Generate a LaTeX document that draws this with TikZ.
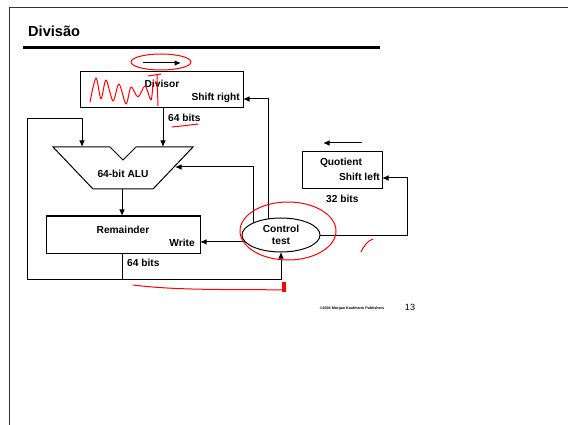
\documentclass[tikz,border=0pt]{standalone}
\usepackage{fontspec}
\setmainfont{Liberation Sans}
\usetikzlibrary{arrows.meta,shapes.geometric}
\begin{document}
\begin{tikzpicture}[x=1pt,y=-1pt,
  ln/.style={line width=1pt,draw=black},
  conn/.style={ln,-{Latex[length=6.5pt,width=5.5pt]}},
  boxx/.style={ln,rectangle,inner sep=0pt,outer sep=0pt,anchor=north west},
  lbl/.style={inner sep=0pt,font=\fontsize{10.2}{12}\selectfont\bfseries},
  note/.style={draw=red,line width=1pt,line cap=round,line join=round}]
\useasboundingbox (0,0) rectangle (568,425);
% frame and title
\draw[line width=1pt,draw=black!80] (9,425) -- (9,8) -- (568,8);
\node[inner sep=0pt,anchor=base west,font=\fontsize{14.6}{16}\selectfont\bfseries] (title) at (28,37) {Divisão};
\draw[line width=3.3pt] (23,47.5) -- (380,47.5);
% boxes
\node[boxx,minimum width=163pt,minimum height=36pt] (div) at (80,72) {};
\node[lbl] (divt) at (162,84) {Divisor};
\node[lbl,anchor=east] (divs) at (240,98) {Shift right};
\node[boxx,minimum width=154pt,minimum height=37pt] (rem) at (46,216) {};
\node[lbl] (remt) at (123,230) {Remainder};
\node[lbl,anchor=east] (remw) at (195,243) {Write};
\node[boxx,minimum width=80pt,minimum height=37pt] (quo) at (302,152) {};
\node[lbl] (quot) at (341,163) {Quotient};
\node[lbl,anchor=east] (quos) at (380,177) {Shift left};
\node[ln,ellipse,minimum width=78pt,minimum height=34pt,inner sep=0pt,outer sep=0pt] (ctl) at (281,235) {};
\node[lbl,align=center] (ctlt) at (281,235) {Control\\test};
% ALU
\coordinate (aluTL) at (53,147);
\coordinate (aluN1) at (110,147);
\coordinate (aluN) at (123,160);
\coordinate (aluN2) at (136,147);
\coordinate (aluTR) at (193,147);
\coordinate (aluBR) at (153,189);
\coordinate (aluBL) at (93,189);
\draw[ln] (aluTL) -- (aluN1) -- (aluN) -- (aluN2) -- (aluTR) -- (aluBR) -- (aluBL) -- cycle;
\node[lbl] (alut) at (123,174) {64-bit ALU};
% coordinates for connectors
\coordinate (aluIn) at (163,147);
\coordinate (aluR) at (175,167);
\coordinate (aluB) at (122,189);
\coordinate (aluL) at (82,147);
\coordinate (divR) at (243,99);
\coordinate (loopBL) at (27,279);
\coordinate (loopBR) at (281,279);
\coordinate (loopTL) at (27,119);
\coordinate (qR) at (407,178);
\coordinate (ar1) at (143,63);
\coordinate (ar2) at (181,63);
\coordinate (aq1) at (362,143);
\coordinate (aq2) at (323,143);
% connectors
\draw[conn] (aluIn |- div.south) -- (aluIn);
\node[lbl,anchor=west] (b64a) at (168,118) {64 bits};
\draw[conn] (ctl.127) |- (divR);
\draw[conn] (ctl.157) |- (aluR);
\draw[conn] (ctl.191) -- (ctl.191 -| rem.east);
\draw[conn] (aluB) -- (aluB |- rem.north);
\draw[ln] (aluB |- rem.south) -- (loopBL -| aluB);
\node[lbl,anchor=west] (b64b) at (127,263) {64 bits};
\draw[conn] (loopBL) -- (loopBR) -- (ctl.south);
\draw[conn] (loopBL) -- (loopTL) -| (aluL);
\draw[conn] (ctl.east) -| (qR) -- (qR -| quo.east);
\node[lbl,anchor=west] (b32) at (326,199) {32 bits};
\draw[conn] (ar1) -- (ar2);
\draw[conn] (aq1) -- (aq2);
% footer
\node[inner sep=0pt,font=\fontsize{3.7}{4}\selectfont\bfseries] (foot) at (352,309) {©2004 Morgan Kaufmann Publishers};
\node[inner sep=0pt,font=\fontsize{9}{10}\selectfont] (pg) at (410,307) {13};
% red hand annotations
\draw[note] (161,62) ellipse [x radius=30, y radius=8];
\draw[note] plot[smooth,tension=0.5] coordinates {(90,102) (96,78) (101,99) (106,80) (113,101) (119,84) (126,104) (131,87) (138,97) (145,86) (151,100) (153,82)};
\draw[note] (148,76) -- (161,74);
\draw[note] (157,75) -- (158,106);
\draw[note] (172,127) .. controls (182,126) and (190,125) .. (198,124);
\draw[note] (288,231) ellipse [x radius=48, y radius=29];
\draw[note] (361,252) .. controls (364,246) and (367,241) .. (373,239);
\draw[note] (133,285) .. controls (180,291) and (240,289) .. (283,290);
\fill[red] (282,282) rectangle (286,292);
\end{tikzpicture}
\end{document}
